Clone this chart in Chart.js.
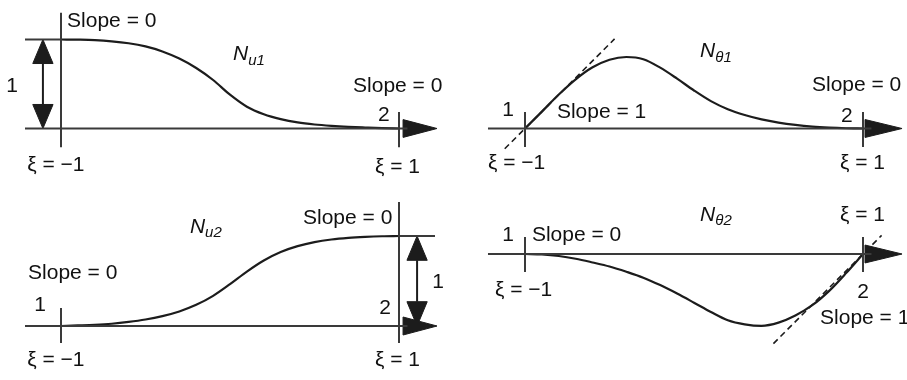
<!DOCTYPE html>
<html>
<head>
<meta charset="utf-8">
<script src="https://cdn.jsdelivr.net/npm/chart.js@4.4.1/dist/chart.umd.min.js"></script>
<style>
  html, body { margin: 0; padding: 0; background: #fff; }
  #wrap { position: relative; width: 907px; height: 380px; }
  canvas { position: absolute; }
</style>
</head>
<body>
<div id="wrap">
  <canvas id="c1" width="453" height="190" style="left:0;top:0"></canvas>
  <canvas id="c2" width="454" height="190" style="left:453px;top:0"></canvas>
  <canvas id="c3" width="453" height="190" style="left:0;top:190px"></canvas>
  <canvas id="c4" width="454" height="190" style="left:453px;top:190px"></canvas>
</div>
<script>
// --- data ---
const xi = [-1, -0.9, -0.8, -0.7, -0.6, -0.5, -0.4, -0.3, -0.2, -0.1, 0,
            0.1, 0.2, 0.3, 0.4, 0.5, 0.6, 0.7, 0.8, 0.9, 1];
const nu1 = [1, 0.998, 0.993, 0.98, 0.958, 0.922, 0.866, 0.786, 0.68, 0.545, 0.38,
             0.245, 0.16, 0.105, 0.068, 0.045, 0.03, 0.019, 0.011, 0.004, 0];
const nth1 = [0, 0.1, 0.201, 0.291, 0.362, 0.407, 0.423, 0.41, 0.36, 0.295, 0.225,
              0.162, 0.114, 0.08, 0.054, 0.035, 0.021, 0.011, 0.005, 0.0015, 0];
const nu2 = [0, 0.006, 0.013, 0.025, 0.045, 0.072, 0.11, 0.162, 0.235, 0.335, 0.465,
             0.605, 0.728, 0.822, 0.887, 0.932, 0.961, 0.979, 0.99, 0.997, 1];
const nth2 = [0, -0.003, -0.012, -0.028, -0.05, -0.074, -0.105, -0.14, -0.184, -0.234, -0.288,
              -0.343, -0.392, -0.416, -0.425, -0.406, -0.364, -0.303, -0.218, -0.113, 0];
// tangent lines (slope = 1), end points in xi
const tan1 = [-1.12, -0.47];
const tan2 = [0.47, 1.11];

const INK = '#1c1c1c';
const AX = '#3a3a3a';
const FONT = '"Liberation Sans", Arial, Helvetica, sans-serif';

function pts(xs, ys) { return xs.map((x, i) => ({ x: x, y: ys[i] })); }
function seg(x0, y0, x1, y1) { return [{ x: x0, y: y0 }, { x: x1, y: y1 }]; }

function lineDs(data, extra) {
  return Object.assign({
    data: data, showLine: true, pointRadius: 0, borderColor: AX, borderWidth: 2,
    backgroundColor: INK, fill: false, tension: 0
  }, extra || {});
}
function headDs(data) {
  return lineDs(data, { borderColor: INK, borderWidth: 1, fill: 'shape', backgroundColor: INK });
}
// arrow head pointing right at tip (tx, 0), base at bx, half height h
function arrowRight(bx, tx, h) { return [{ x: bx, y: h }, { x: tx, y: 0 }, { x: bx, y: -h }, { x: bx, y: h }]; }
// vertical double arrow at x between 0 and 1
function dblArrow(x, len, w) {
  return [
    lineDs(seg(x, len, x, 1 - len), { borderColor: INK }),
    headDs([{ x: x - w, y: 1 - len }, { x: x, y: 1 }, { x: x + w, y: 1 - len }, { x: x - w, y: 1 - len }]),
    headDs([{ x: x - w, y: len }, { x: x, y: 0 }, { x: x + w, y: len }, { x: x - w, y: len }])
  ];
}

const labelPlugin = {
  id: 'labels',
  afterDatasetsDraw(chart) {
    const ctx = chart.ctx, sx = chart.scales.x, sy = chart.scales.y;
    (chart.options.plugins.labels.items || []).forEach(l => {
      const px = sx.getPixelForValue(l.x), py = sy.getPixelForValue(l.y);
      ctx.save();
      ctx.fillStyle = '#111';
      ctx.textBaseline = 'middle';
      if (l.sub) {
        ctx.textAlign = 'left';
        ctx.font = 'italic 21px ' + FONT;
        ctx.fillText(l.t, px, py);
        const w = ctx.measureText(l.t).width;
        ctx.font = 'italic 15px ' + FONT;
        ctx.fillText(l.sub, px + w, py + 6);
      } else {
        ctx.textAlign = l.a || 'left';
        ctx.font = '21px ' + FONT;
        ctx.fillText(l.t, px, py);
      }
      ctx.restore();
    });
  }
};

function makeChart(id, w, h, frame, datasets, labels) {
  const x0 = -1 - frame.px / frame.ux;
  const y1 = frame.py / frame.uy;
  new Chart(document.getElementById(id), {
    type: 'scatter',
    data: { datasets: datasets },
    options: {
      responsive: false, animation: false, devicePixelRatio: 1,
      layout: { padding: 0 },
      scales: {
        x: { type: 'linear', display: false, min: x0, max: x0 + w / frame.ux },
        y: { type: 'linear', display: false, min: y1 - h / frame.uy, max: y1 }
      },
      plugins: { legend: { display: false }, tooltip: { enabled: false }, labels: { items: labels } }
    },
    plugins: [labelPlugin]
  });
}

const curveStyle = { borderColor: INK, borderWidth: 2.2, cubicInterpolationMode: 'monotone' };
const dashStyle = { borderColor: INK, borderWidth: 1.6, borderDash: [6, 4] };

// top left: N_u1
makeChart('c1', 453, 190, { px: 61, ux: 169, py: 128.5, uy: 89 }, [
  lineDs(seg(-1.213, 0, 1.05, 0)),
  lineDs(seg(-1, 1.3, -1, -0.21)),
  lineDs(seg(-1.213, 1, -1, 1)),
  lineDs(seg(1, 0.185, 1, -0.21)),
  headDs(arrowRight(1.024, 1.225, 0.1)),
  ...dblArrow(-1.107, 0.27, 0.06),
  lineDs(pts(xi, nu1), curveStyle)
], [
  { t: 'Slope = 0', x: -0.964, y: 1.2 },
  { t: 'N', sub: 'u1', x: 0.018, y: 0.83 },
  { t: '1', x: -1.29, y: 0.48, a: 'center' },
  { t: 'Slope = 0', x: 0.728, y: 0.47 },
  { t: '2', x: 0.911, y: 0.15, a: 'center' },
  { t: 'ξ = −1', x: -1.2, y: -0.41 },
  { t: 'ξ = 1', x: 0.858, y: -0.44 }
]);

// top right: N_theta1
makeChart('c2', 454, 190, { px: 72, ux: 169, py: 128.5, uy: 169 }, [
  lineDs(seg(-1.219, 0, 1.05, 0)),
  lineDs(seg(-1, 0.098, -1, -0.109)),
  lineDs(seg(1, 0.098, 1, -0.109)),
  headDs(arrowRight(1.012, 1.231, 0.053)),
  lineDs(seg(tan1[0], tan1[0] + 1, tan1[1], tan1[1] + 1), dashStyle),
  lineDs(pts(xi, nth1), curveStyle)
], [
  { t: 'N', sub: 'θ1', x: 0.036, y: 0.455 },
  { t: 'Slope = 0', x: 0.698, y: 0.257 },
  { t: '2', x: 0.905, y: 0.073, a: 'center' },
  { t: '1', x: -1.1, y: 0.109, a: 'center' },
  { t: 'Slope = 1', x: -0.811, y: 0.098 },
  { t: 'ξ = −1', x: -1.219, y: -0.204 },
  { t: 'ξ = 1', x: 0.864, y: -0.204 }
]);

// bottom left: N_u2
makeChart('c3', 453, 190, { px: 61, ux: 169, py: 136, uy: 90 }, [
  lineDs(seg(-1.213, 0, 1.05, 0)),
  lineDs(seg(-1, 0.2, -1, -0.189)),
  lineDs(seg(1, 1.378, 1, -0.189)),
  lineDs(seg(1, 1, 1.213, 1)),
  headDs(arrowRight(1.024, 1.225, 0.1)),
  ...dblArrow(1.107, 0.27, 0.06),
  lineDs(pts(xi, nu2), curveStyle)
], [
  { t: '1', x: 1.231, y: 0.49, a: 'center' },
  { t: '2', x: 0.917, y: 0.2, a: 'center' },
  { t: 'Slope = 0', x: 0.432, y: 1.2 },
  { t: 'N', sub: 'u2', x: -0.237, y: 1.1 },
  { t: 'Slope = 0', x: -1.195, y: 0.589 },
  { t: '1', x: -1.124, y: 0.233, a: 'center' },
  { t: 'ξ = −1', x: -1.2, y: -0.378 },
  { t: 'ξ = 1', x: 0.858, y: -0.378 }
]);

// bottom right: N_theta2
makeChart('c4', 454, 190, { px: 72, ux: 169, py: 64, uy: 169 }, [
  lineDs(seg(-1.219, 0, 1.05, 0)),
  lineDs(seg(-1, 0.1, -1, -0.107)),
  lineDs(seg(1, 0.1, 1, -0.107)),
  headDs(arrowRight(1.012, 1.231, 0.053)),
  lineDs(seg(tan2[0], tan2[0] - 1, tan2[1], tan2[1] - 1), dashStyle),
  lineDs(pts(xi, nth2), curveStyle)
], [
  { t: '1', x: -1.1, y: 0.112, a: 'center' },
  { t: 'Slope = 0', x: -0.959, y: 0.112 },
  { t: 'ξ = −1', x: -1.178, y: -0.213 },
  { t: 'N', sub: 'θ2', x: 0.036, y: 0.231 },
  { t: 'ξ = 1', x: 0.864, y: 0.231 },
  { t: '2', x: 1.0, y: -0.225, a: 'center' },
  { t: 'Slope = 1', x: 0.746, y: -0.379 }
]);
</script>
</body>
</html>
